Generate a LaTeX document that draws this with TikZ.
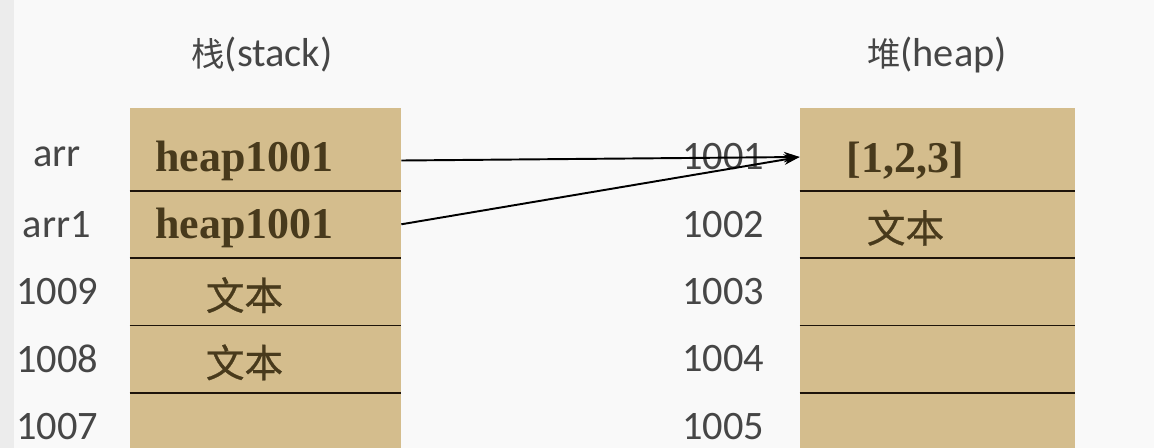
\documentclass[tikz,border=0pt]{standalone}
\usepackage{fontspec}
\setmainfont{Carlito}
\newfontfamily\cjk{Noto Sans CJK SC}
\newfontfamily\cjkmid{Noto Sans CJK SC}[FakeBold=0.7]
\newfontfamily\cellserif{Liberation Serif}
\usetikzlibrary{arrows.meta}
\definecolor{paper}{RGB}{249,249,249}
\definecolor{stripe}{RGB}{236,236,236}
\definecolor{cellfill}{RGB}{212,189,141}
\definecolor{celltext}{RGB}{72,58,28}
\definecolor{labeltext}{RGB}{70,70,70}
\definecolor{sepline}{RGB}{30,20,10}
\tikzset{
    stackcell/.style={minimum width=5.42cm,minimum height=1.346cm,inner sep=0pt},
    heapcell/.style={minimum width=5.5cm,minimum height=1.346cm,inner sep=0pt},
    celltxt/.style={text=celltext,inner sep=0pt},
    addr/.style={text=labeltext,inner sep=0pt,font=\fontsize{23}{26}\selectfont},
    title/.style={text=labeltext,font=\fontsize{23}{26}\selectfont},
    sep/.style={draw=sepline,line width=0.9pt},
    pointer/.style={draw=black,line width=1.1pt,-{Stealth[length=9pt,width=6pt]}}
}
\newcommand{\bfcell}{\cellserif\bfseries\fontsize{25}{28}\selectfont}
\newcommand{\cjkcell}{\cjkmid\fontsize{22}{26}\selectfont}
\begin{document}
\begin{tikzpicture}[x=0.02cm,y=-0.02cm]
    % background
    \fill[paper] (0,0) rectangle (1154,448);
    \fill[stripe] (0,0) rectangle (14,448);
    \useasboundingbox (0,0) rectangle (1154,448);
    % titles
    \node[title] (tstack) at (262,55) {{\cjk\fontsize{19}{22}\selectfont 栈}(stack)};
    \node[title] (theap) at (937,55) {{\cjk\fontsize{19}{22}\selectfont 堆}(heap)};
    % columns
    \fill[cellfill] (130,108) rectangle (401,448);
    \fill[cellfill] (800,108) rectangle (1075,448);
    % stack cells
    \foreach \i/\txt/\lab in {1/{\bfcell heap1001}/arr,2/{\bfcell heap1001}/arr1,3/{\cjkcell 文本}/1009,4/{\cjkcell 文本}/1008,5/{}/1007}{
        \node[stackcell] (s\i) at (265.5,{157+(\i-1)*67.3}) {};
        \node[celltxt] (st\i) at ([xshift=-0.42cm,yshift=-2pt]s\i.center) {\txt};
        \node[addr] (sl\i) at (57,{157+(\i-1)*67.3}) {\lab};
    }
    % heap cells
    \foreach \i/\txt in {1/{\bfcell [1,2,3]},2/{\cjkcell 文本},3/{},4/{},5/{}}{
        \node[heapcell] (h\i) at (937.5,{157+(\i-1)*67.3}) {};
        \node[celltxt] (ht\i) at ([xshift=-0.64cm,yshift=-2pt]h\i.center) {\txt};
        \node[addr] (hl\i) at (723,{157+(\i-1)*67.3}) {100\i};
    }
    % separators
    \foreach \i in {1,2,3,4}{
        \draw[sep] (s\i.south west) -- (s\i.south east);
        \draw[sep] (h\i.south west) -- (h\i.south east);
    }
    % references
    \draw[pointer] ([yshift=-2pt]s1.east) -- (h1.west);
    \draw[pointer] (s2.east) -- (h1.west);
\end{tikzpicture}
\end{document}
